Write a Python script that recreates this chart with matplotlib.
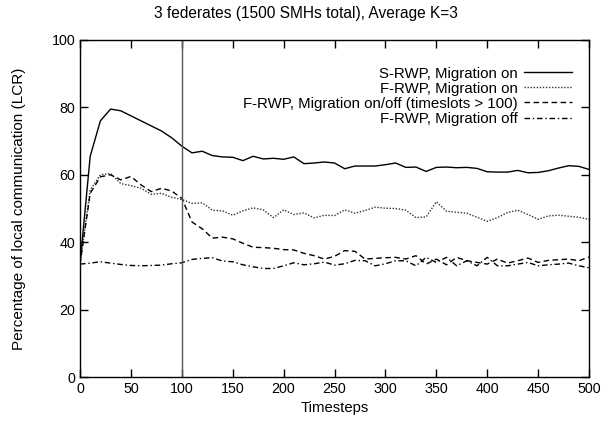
import matplotlib
matplotlib.use("Agg")
import matplotlib.pyplot as plt

plt.rcParams['font.family'] = ['Liberation Sans', 'DejaVu Sans']

timesteps = list(range(0, 501, 10))

s_rwp_on = [33.5, 65.5, 76, 79.5, 79, 77.5, 76, 74.5, 73, 71,
            68.5, 66.5, 67, 65.7, 65.3, 65.2, 64.2, 65.5, 64.7, 64.9,
            64.6, 65.3, 63.3, 63.5, 63.8, 63.5, 61.8, 62.6, 62.6, 62.6,
            63, 63.5, 62.2, 62.3, 61, 62.2, 62.3, 62.1, 62.2, 61.9,
            60.9, 60.8, 60.8, 61.3, 60.6, 60.7, 61.2, 62, 62.7, 62.5, 61.6]

f_rwp_on = [33.5, 55.5, 60, 60.4, 57.4, 56.8, 56, 54.2, 54.5, 53.3,
            52.7, 51.5, 51.7, 49.5, 49.3, 48, 49.3, 50.2, 49.6, 47.3,
            49.6, 48.2, 48.7, 47.2, 48, 47.9, 49.6, 48.6, 49.4, 50.4,
            50.1, 50, 49.5, 47.3, 47.5, 52, 49.2, 48.9, 48.6, 47.4,
            46.2, 47.3, 48.8, 49.5, 48.2, 46.8, 47.8, 48, 47.7, 47.4, 46.8]

f_rwp_onoff = [33.5, 54.5, 59.4, 60, 58.5, 59.5, 57, 55, 56, 55.2,
               53, 46, 44, 41.2, 41.5, 41, 39.7, 38.5, 38.4, 38.2,
               37.8, 37.7, 36.7, 36, 35, 35.8, 37.5, 37.3, 35, 35.2,
               35.4, 35.5, 35, 36, 33.5, 35, 33.3, 35.5, 34.5, 34,
               33.5, 35, 33.8, 34.5, 35.3, 34, 34.6, 34.8, 35, 34.5, 35.6]

f_rwp_off = [33.5, 33.8, 34.2, 33.8, 33.4, 33.1, 33, 33.1, 33.2, 33.6,
             33.9, 34.9, 35.2, 35.4, 34.4, 34.2, 33.3, 32.7, 32.2, 32.2,
             33, 33.9, 33.3, 33.6, 34.1, 33.2, 33.6, 34.6, 34.5, 33,
             33.6, 34.5, 34.5, 33, 35.5, 34, 35.5, 33, 34.5, 33,
             35.5, 33, 33, 33.5, 34, 33, 33.3, 33.5, 33.8, 33, 32.4]

labels = ["S-RWP, Migration on",
          "F-RWP, Migration on",
          "F-RWP, Migration on/off (timeslots > 100)",
          "F-RWP, Migration off"]

marker_x = 100
xticks = list(range(0, 501, 50))
yticks = list(range(0, 101, 20))

fig = plt.figure(figsize=(6.08, 4.24), dpi=100)
ax = fig.add_axes([0.1316, 0.1108, 0.8372, 0.7949])

ax.plot(timesteps, s_rwp_on, color='black', lw=1.0, linestyle='-', label=labels[0])
ax.plot(timesteps, f_rwp_on, color='#333333', lw=1.0, linestyle=(0, (1, 1.2)), label=labels[1])
ax.plot(timesteps, f_rwp_onoff, color='black', lw=1.0, linestyle=(0, (4, 2.5)), label=labels[2])
ax.plot(timesteps, f_rwp_off, color='black', lw=1.0, linestyle=(0, (4, 2, 1, 2)), label=labels[3])
ax.axvline(marker_x, color='#555555', lw=1.0)

ax.set_xlim(0, 500)
ax.set_ylim(0, 100)
ax.set_xticks(xticks)
ax.set_yticks(yticks)
ax.tick_params(direction='in', length=6, width=1, top=True, right=True, labelsize=10.3)
for sp in ax.spines.values():
    sp.set_linewidth(1.0)

fig.text(0.503, 0.969, "3 federates (1500 SMHs total), Average K=3", fontsize=11.2,
         ha='center', va='center')
ax.set_xlabel("Timesteps", fontsize=10.7, labelpad=4)
ax.set_ylabel("Percentage of local communication (LCR)", fontsize=11, labelpad=18)

leg = ax.legend(loc='upper right', bbox_to_anchor=(0.967, 0.921), frameon=False,
                markerfirst=False, fontsize=10.8, handlelength=3.2, handletextpad=0.4,
                labelspacing=0.07, borderaxespad=0, borderpad=0)

fig.savefig("out.png", dpi=100)
